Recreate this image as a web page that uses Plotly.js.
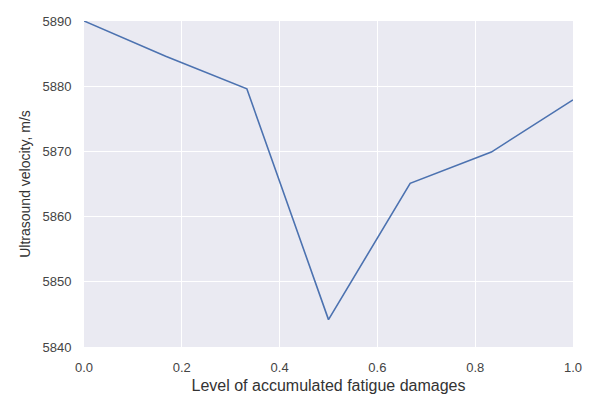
<!DOCTYPE html>
<html>
<head>
<meta charset="utf-8">
<script src="https://cdn.plot.ly/plotly-3.0.1.min.js"></script>
<style>html,body{margin:0;padding:0;background:#fff;}#chart{width:589px;height:396px;}</style>
</head>
<body>
<div id="chart"></div>
<script>
const damageLevel = [0.0, 0.167, 0.333, 0.5, 0.667, 0.833, 1.0];
const velocity = [5890.0, 5884.6, 5879.6, 5844.2, 5865.1, 5869.9, 5877.9];
const xTicks = [0.0, 0.2, 0.4, 0.6, 0.8, 1.0];
const yTicks = [5840, 5850, 5860, 5870, 5880, 5890];

const trace = {
  x: damageLevel,
  y: velocity,
  type: 'scatter',
  mode: 'lines',
  line: {color: '#4C72B0', width: 1.6},
  hoverinfo: 'x+y'
};

const layout = {
  width: 589, height: 396,
  margin: {l: 84, r: 16, t: 21, b: 49},
  paper_bgcolor: '#ffffff',
  plot_bgcolor: '#EAEAF2',
  showlegend: false,
  font: {family: 'Liberation Sans, Arial, sans-serif', size: 13, color: '#333333'},
  xaxis: {
    range: [0, 1],
    tickvals: xTicks,
    ticktext: xTicks.map(v => v.toFixed(1)),
    showgrid: true, gridcolor: '#ffffff', gridwidth: 1,
    zeroline: false, showline: false,
    ticks: 'outside', ticklen: 8, tickcolor: 'rgba(0,0,0,0)',
    tickfont: {size: 13, color: '#444444'},
    title: {text: 'Level of accumulated fatigue damages', font: {size: 16, color: '#333333'}, standoff: 6}
  },
  yaxis: {
    range: [5840, 5890],
    tickvals: yTicks,
    ticktext: yTicks.map(String),
    showgrid: true, gridcolor: '#ffffff', gridwidth: 1,
    zeroline: false, showline: false,
    ticks: 'outside', ticklen: 9, tickcolor: 'rgba(0,0,0,0)',
    tickfont: {size: 13, color: '#444444'},
    title: {text: 'Ultrasound velocity, m/s', font: {size: 14, color: '#333333'}, standoff: 8}
  }
};

Plotly.newPlot('chart', [trace], layout, {displayModeBar: false, staticPlot: true});
</script>
</body>
</html>
